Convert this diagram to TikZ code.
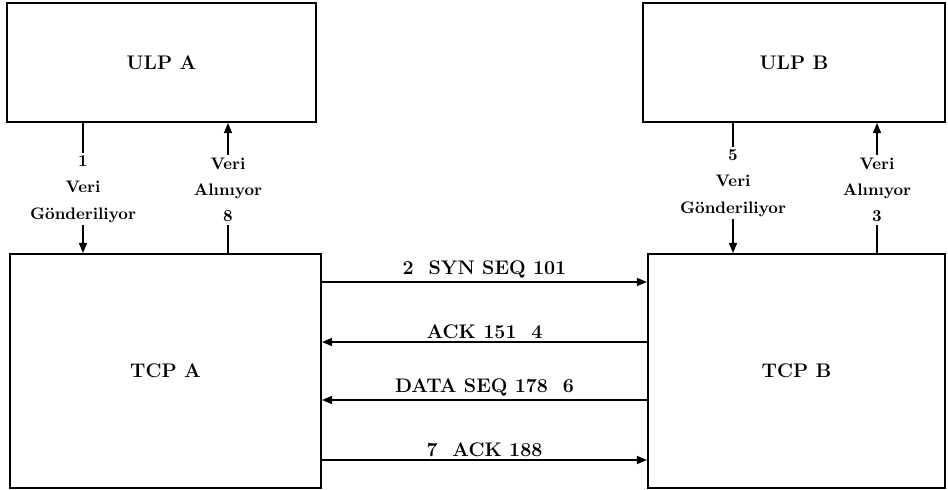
\documentclass[tikz,border=0pt]{standalone}
\usepackage{fontspec}
\usepackage{tikz}
\usetikzlibrary{arrows.meta}
\tikzset{
  layerbox/.style={draw, line width=1.2pt, inner sep=0pt},
  sidelabel/.style={align=center, inner sep=1.5pt, font=\fontsize{9.5}{15}\selectfont\bfseries},
  >={Triangle[length=2mm,width=1.6mm]}
}

\begin{document}
\begin{tikzpicture}[x=0.02cm, y=-0.02cm, font=\fontsize{11.2}{15}\selectfont\bfseries]

    \useasboundingbox (0,0) rectangle (948,490);

    % Boxes
    \node[layerbox, minimum width=6.18cm, minimum height=2.38cm] (ulpa) at (161.5,62.5) {ULP A};
    \node[layerbox, minimum width=6.22cm, minimum height=4.68cm] (tcpa) at (165.5,371) {TCP A};
    \node[layerbox, minimum width=6.04cm, minimum height=2.38cm] (ulpb) at (794,62.5) {ULP B};
    \node[layerbox, minimum width=5.94cm, minimum height=4.68cm] (tcpb) at (796.5,371) {TCP B};

    % Labels between ULP and TCP
    \node[sidelabel] (senda) at (83,189)  {1\\Veri\\Gönderiliyor};
    \node[sidelabel] (recva) at (228,190) {Veri\\Alınıyor\\8};
    \node[sidelabel] (sendb) at (733,183) {5\\Veri\\Gönderiliyor};
    \node[sidelabel] (recvb) at (877,190) {Veri\\Alınıyor\\3};

    % Vertical connectors
    \draw[thick] (ulpa.south -| senda) -- (senda.north);
    \draw[thick, ->] (senda.south) -- (tcpa.north -| senda);
    \draw[thick, ->] (recva.north) -- (ulpa.south -| recva);
    \draw[thick] (recva.south) -- (tcpa.north -| recva);

    \draw[thick] (ulpb.south -| sendb) -- (sendb.north);
    \draw[thick, ->] (sendb.south) -- (tcpb.north -| sendb);
    \draw[thick, ->] (recvb.north) -- (ulpb.south -| recvb);
    \draw[thick] (recvb.south) -- (tcpb.north -| recvb);

    % Segments between TCP A and TCP B
    \foreach \y/\txt/\tip in {282/{2\ \ SYN SEQ 101}/->,
                              342/{ACK 151\ \ 4}/<-,
                              400/{DATA SEQ 178\ \ 6}/<-,
                              460/{7\ \ ACK 188}/->}
        \draw[thick, \tip] (tcpa.east |- 0,\y) -- node[above, inner sep=1.5pt] {\txt} (tcpb.west |- 0,\y);

\end{tikzpicture}
\end{document}
